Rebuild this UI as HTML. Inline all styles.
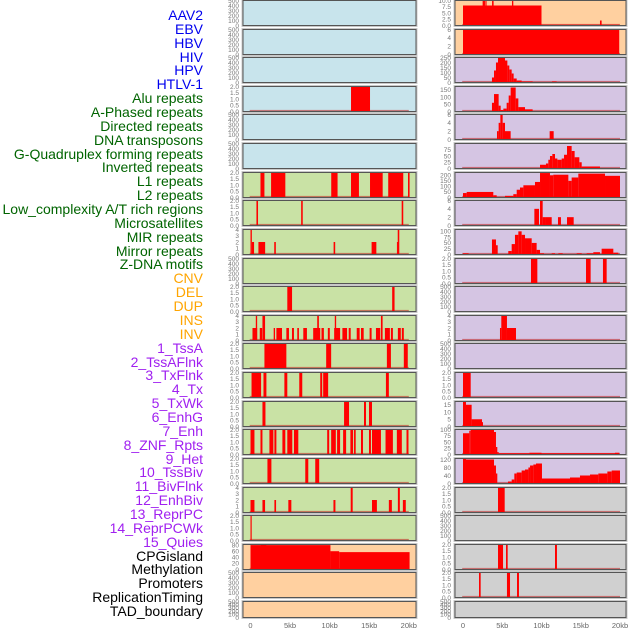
<!DOCTYPE html>
<html><head><meta charset="utf-8">
<style>
html,body{margin:0;padding:0;background:#fff;}
#wrap{position:relative;width:630px;height:630px;overflow:hidden;font-family:"Liberation Sans",sans-serif;}
.lab{position:absolute;right:427px;font-size:14px;line-height:14px;white-space:nowrap;}
svg{position:absolute;left:0;top:0;}
</style></head>
<body>
<div id="wrap">
<div id="labels"></div>
<svg id="svg" width="630" height="630"></svg>
</div>
<script>
const trackNames = ["AAV2","EBV","HBV","HIV","HPV","HTLV-1","Alu repeats","A-Phased repeats","Directed repeats","DNA transposons","G-Quadruplex forming repeats","Inverted repeats","L1 repeats","L2 repeats","Low_complexity A/T rich regions","Microsatellites","MIR repeats","Mirror repeats","Z-DNA motifs","CNV","DEL","DUP","INS","INV","1_TssA","2_TssAFlnk","3_TxFlnk","4_Tx","5_TxWk","6_EnhG","7_Enh","8_ZNF_Rpts","9_Het","10_TssBiv","11_BivFlnk","12_EnhBiv","13_ReprPC","14_ReprPCWk","15_Quies","CPGisland","Methylation","Promoters","ReplicationTiming","TAD_boundary"];
const trackGroups = [0,0,0,0,0,0,1,1,1,1,1,1,1,1,1,1,1,1,1,2,2,2,2,2,3,3,3,3,3,3,3,3,3,3,3,3,3,3,3,4,4,4,4,4];
const xTicks = [0,5,10,15,20];
const xTickLabels = ["0","5kb","10kb","15kb","20kb"];
const leftBg = [0,0,0,0,0,0,1,1,1,1,1,1,1,1,1,1,1,1,1,2,2,2];
const rightBg = [2,2,3,3,3,3,3,3,3,3,3,3,3,3,3,3,3,4,4,4,4,4];
const leftMax = [500,500,500,2,500,500,2,2,4,500,2,4,2,2,2,2,2,4,2,82,500,500];
const rightMax = [10,6,250,172,6,100,225,6,108,2,500,4,500,2,17.25,100,125,2,500,2,2,500];
const leftTicks = [
 [0,100,200,300,400,500],[0,100,200,300,400,500],[0,100,200,300,400,500],[0,0.5,1,1.5,2],[0,100,200,300,400,500],[0,100,200,300,400,500],
 [0,0.5,1,1.5,2],[0,0.5,1,1.5,2],[0,1,2,3,4],[0,100,200,300,400,500],[0,0.5,1,1.5,2],[0,1,2,3,4],[0,0.5,1,1.5,2],[0,0.5,1,1.5,2],[0,0.5,1,1.5,2],[0,0.5,1,1.5,2],[0,0.5,1,1.5,2],[0,1,2,3,4],[0,0.5,1,1.5,2],[0,20,40,60,80],[0,100,200,300,400,500],[0,100,200,300,400,500]];
const rightTicks = [
 [0,2.5,5,7.5,10],[0,2,4,6],[0,50,100,150,200,250],[0,50,100,150],[0,2,4,6],[0,25,50,75],[0,50,100,150,200],[0,2,4,6],[0,25,50,75,100],[0,0.5,1,1.5,2],[0,100,200,300,400,500],[0,1,2,3,4],[0,100,200,300,400,500],[0,0.5,1,1.5,2],[0,5,10,15],[0,25,50,75,100],[0,40,80,120],[0,0.5,1,1.5,2],[0,100,200,300,400,500],[0,0.5,1,1.5,2],[0,0.5,1,1.5,2],[0,100,200,300,400,500]];
const leftSegs = [
 [],[],[],[[12.7,15.1,2]],[],[],
 [[1.26,1.76,2],[2.6,4.4,2],[10.2,11.0,2],[12.7,13.7,2],[15.1,16.7,2],[17.4,19.3,2],[19.9,20.1,2]],
 [[0.75,0.95,2],[6.4,6.6,2],[19.1,19.3,2]],
 [[0,0.17,4],[0.17,0.45,2],[1.0,1.85,2],[3.0,3.2,2],[10.5,10.7,2],[15.3,15.9,2],[18.5,18.6,2],[18.6,18.8,4]],
 [],
 [[4.65,5.25,2],[17.9,18.2,2]],
 [[0.25,0.84,2],[0.67,0.84,4],[1.17,1.47,2],[1.51,1.84,4],[2.93,3.10,2],[3.27,3.98,2],[4.53,4.86,2],[5.24,5.49,2],[5.91,6.12,2],[6.67,7.13,2],[7.92,8.81,2],[8.43,8.64,4],[8.97,9.27,2],[9.77,10.02,2],[10.57,11.32,2],[10.65,10.82,4],[11.61,12.20,2],[12.41,12.66,2],[13.42,13.79,2],[13.96,14.30,2],[15.05,15.30,2],[15.85,16.39,2],[16.48,16.69,4],[16.98,17.61,2],[17.74,17.99,2],[18.62,18.99,2],[19.12,19.37,2]],
 [[1.76,4.53,2],[9.56,10.19,2],[17.23,17.74,2],[19.37,19.87,2]],
 [[0.13,1.34,2],[1.64,2.01,2],[4.28,4.65,2],[6.16,6.54,2],[8.81,9.06,2],[9.18,9.81,2],[17.11,17.48,2]],
 [[1.51,1.89,2],[11.82,12.45,2],[14.34,14.59,2],[14.97,15.35,2]],
 [[0,0.5,2],[1.26,1.51,2],[2.39,2.89,2],[3.02,3.27,2],[4.03,4.40,2],[4.65,5.28,2],[5.49,6.04,2],[9.69,9.94,2],[10.19,10.78,2],[10.94,11.32,2],[11.70,12.08,2],[12.62,12.96,2],[13.08,13.29,2],[13.96,14.21,2],[14.97,15.22,2],[15.35,16.48,2],[17.06,17.99,2],[18.49,19.12,2],[19.71,19.96,2]],
 [[2.14,2.64,2],[6.92,7.30,2],[8.18,8.68,2]],
 [[0,0.5,2],[1.51,1.84,2],[3.02,3.23,2],[4.78,5.16,2],[10.48,10.73,2],[12.66,12.91,4],[15.35,15.97,2],[17.48,17.86,2],[18.62,18.87,4],[19.25,19.62,2]],
 [[0,0.15,2]],
 [[0,10.1,80],[1.3,2.0,82],[10.1,11.2,60],[11.2,20.1,57]],
 [],[]];
const rightSegs = [
 [[0,10,8],[2.5,2.8,10],[2.85,3.0,10],[3.7,3.9,10],[6.24,6.41,10],[17.45,17.66,2],[10,19.9,0.3]],
 [[0,19.9,6]],
 [[3.69,3.95,50],[3.95,4.2,120],[4.2,4.46,200],[4.46,5.35,250],[5.35,5.65,220],[5.65,5.9,170],[5.9,6.2,130],[6.2,6.45,90],[6.45,6.84,40],[6.84,7.47,20],[7.47,8.87,10],[11.34,11.93,10]],
 [[3.69,3.95,60],[3.95,4.54,120],[4.54,4.8,40],[4.8,5.14,10],[5.14,5.56,20],[5.56,5.82,60],[5.82,6.07,110],[6.07,6.71,165],[6.71,7.05,90],[7.05,7.9,30],[7.9,8.87,15]],
 [[4.33,4.54,2],[4.54,4.76,4],[4.76,5.05,6],[5.05,5.35,4],[5.35,6.07,2],[11.04,11.55,2]],
 [[9.81,10.57,15],[10.57,10.87,20],[10.87,11.08,35],[11.08,11.38,50],[11.38,11.72,58],[11.72,12.02,40],[12.02,12.57,35],[12.57,12.87,40],[12.87,13.25,55],[13.25,13.84,90],[13.84,14.22,70],[14.22,14.82,45],[14.82,15.12,25],[15.12,17.45,8]],
 [[0,0.47,40],[0.47,3.86,50],[3.86,4.29,20],[4.29,5.35,5],[5.35,6.41,15],[6.41,6.84,30],[6.84,7.26,70],[7.26,7.69,90],[7.69,9.17,110],[9.17,9.81,140],[9.81,11.08,220],[11.08,11.5,200],[11.5,13.42,205],[13.42,13.84,150],[13.84,14.69,180],[14.69,18.09,215],[18.09,20.0,195]],
 [[9.09,9.68,4],[9.81,10.15,6],[10.15,10.45,2],[10.45,11.3,2],[12.1,12.48,2],[13.25,14.1,2]],
 [[0,0.72,5],[3.69,4.2,65],[4.2,4.42,40],[5.77,6.2,15],[6.2,6.62,45],[6.62,7.05,85],[7.05,7.47,100],[7.47,7.9,85],[7.9,8.75,70],[8.75,9.38,50],[9.38,9.81,20],[9.81,10.32,5],[11.3,11.72,5],[12.15,12.7,5],[14.48,15.12,5],[15.75,16.6,5],[16.6,17.45,10],[17.66,19.15,25],[19.15,19.79,8]],
 [[8.66,9.47,2],[15.67,16.26,2],[17.83,18.3,2]],
 [],
 [[4.71,4.88,2],[4.88,5.6,4],[5.6,6.75,2]],
 [],
 [[0,0.98,2]],
 [[0,0.38,17],[0.38,1.1,15],[1.1,2.42,5],[2.42,2.5,3]],
 [[0,0.8,85],[0.8,0.98,95],[0.98,3.95,100],[3.95,4.2,90],[4.2,4.37,30],[4.37,4.54,10],[4.54,8.45,5],[8.45,10.0,7],[10.0,19.36,5],[19.36,19.9,7]],
 [[0,0.38,125],[0.38,3.95,120],[3.95,4.2,90],[4.2,4.37,50],[5.73,6.2,10],[6.2,6.54,20],[6.54,6.84,50],[6.84,7.47,55],[7.47,7.9,65],[7.9,8.33,70],[8.33,8.54,80],[8.54,8.96,90],[8.96,9.3,95],[9.3,10.06,100],[10.06,13.63,25],[13.63,14.9,30],[14.9,16.18,40],[16.18,17.24,45],[17.24,18.39,50],[18.39,18.94,60],[18.94,20.0,65]],
 [[4.46,5.31,2]],
 [],
 [[4.46,5.1,2],[5.48,5.69,2],[11.72,11.97,2]],
 [[2.04,2.25,2],[5.6,5.99,2],[6.88,7.13,2]],
 []];

const groupColors = ["#0000ee","#006400","#ffa500","#a020f0","#000000"];
const bgColors = ["#c8e4ec","#c9e2a5","#ffd0a0","#d5c5e3","#d0d0d0"];
const NS = "http://www.w3.org/2000/svg";
const svg = document.getElementById('svg');
const labels = document.getElementById('labels');

trackNames.forEach((n,i)=>{
  const d = document.createElement('div');
  d.className = 'lab';
  d.style.top = (8 + i*13.86) + 'px';
  d.style.color = groupColors[trackGroups[i]];
  d.textContent = n;
  
  
  labels.appendChild(d);
});

function mk(tag, attrs){ const e=document.createElementNS(NS,tag); for(const k in attrs) e.setAttribute(k,attrs[k]); return e; }
function fmt(v, ticks){
  const dec = ticks.some(t=>t%1!==0);
  return dec ? v.toFixed(1) : String(v);
}
const cols = [
 {px0:243, px1:416, x0:250.5, x1:408.8, bg:leftBg, max:leftMax, ticks:leftTicks, segs:leftSegs, name:'left'},
 {px0:455, px1:626, x0:463, x1:620, bg:rightBg, max:rightMax, ticks:rightTicks, segs:rightSegs, name:'right'}
];
cols.forEach((c,ci)=>{
  const xs = kb => c.x0 + kb/20*(c.x1-c.x0);
  for(let r=0;r<22;r++){
    const top = Math.round(r*28.62) + 0.5;
    const h = r===21 ? 16 : 25;
    const g = mk('g',{});
    
    
    svg.appendChild(g);
    const halo = mk('rect',{x:c.px0-1,y:top-1,width:c.px1-c.px0+2,height:h+2,fill:'none',stroke:'#c8c8c8','stroke-width':1});
    g.appendChild(halo);
    const bgR = mk('rect',{x:c.px0,y:top,width:c.px1-c.px0,height:h,fill:bgColors[c.bg[r]]});
    g.appendChild(bgR);
    const ymax = c.max[r];
    const ys = v => top + h - Math.min(v,ymax)/ymax*h;
    const segs = c.segs[r];
    if(segs.length){
      const bl = mk('rect',{x:xs(-0.1),y:top+h-1.6,width:xs(20)-xs(-0.1),height:1.6,fill:'rgba(190,30,30,0.55)'});
      
      
      g.appendChild(bl);
    }
    segs.forEach(s=>{
      const x0 = Math.max(xs(s[0]), c.px0), x1 = Math.min(xs(s[1]), c.px1);
      const b = mk('rect',{x:x0,y:ys(s[2]),width:Math.max(x1-x0,1),height:top+h-ys(s[2]),fill:'#ff0000'});
      
      
      g.appendChild(b);
    });
    const border = mk('rect',{x:c.px0,y:top,width:c.px1-c.px0,height:h,fill:'none',stroke:'#555','stroke-width':1});
    g.appendChild(border);
    const tk = c.ticks[r];
    tk.forEach(v=>{
      const t = mk('text',{x:c.px0-4,y:ys(v)+2.3,'text-anchor':'end','font-size':'6.5','fill':'#777','font-family':'Liberation Sans, sans-serif'});
      t.textContent = fmt(v,tk);
      
      
      g.appendChild(t);
    });
  }
  xTicks.forEach((v,i)=>{
    const t = mk('text',{x:xs(v),y:628,'text-anchor':'middle','font-size':'7.5','fill':'#666','font-family':'Liberation Sans, sans-serif'});
    t.textContent = xTickLabels[i];
    
    
    svg.appendChild(t);
  });
});
</script>
</body></html>
